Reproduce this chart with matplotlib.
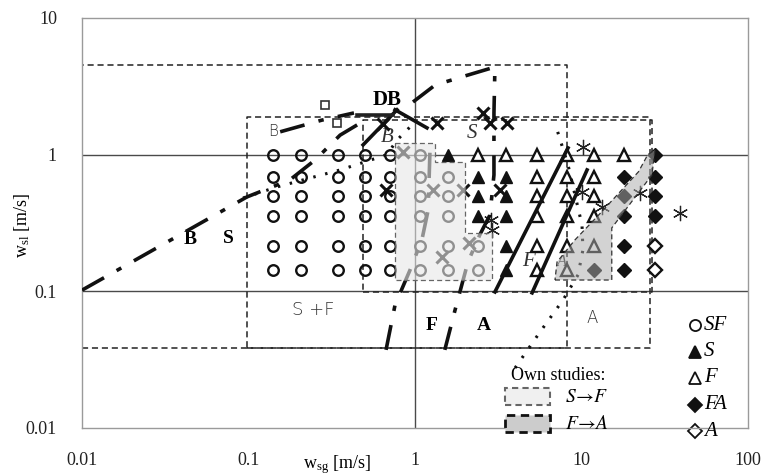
import matplotlib
matplotlib.use("Agg")
import matplotlib.pyplot as plt
from matplotlib.patches import Polygon, Rectangle

plt.rcParams['font.family'] = ['Liberation Serif', 'DejaVu Serif']
plt.rcParams['mathtext.fontset'] = 'stix'

# ---------------- data ----------------
x_ticks = [0.01, 0.1, 1, 10, 100]
x_tick_labels = ['0.01', '0.1', '1', '10', '100']
y_ticks = [0.01, 0.1, 1, 10]
y_tick_labels = ['0.01', '0.1', '1', '10']

# SF (open circles)
sf_x = [0.14]*6 + [0.207]*6 + [0.345]*6 + [0.50]*6 + [0.71]*6 + [1.07]*6 + [1.58]*5 + [2.39]*2
sf_y = ([1.0, 0.69, 0.5, 0.355, 0.215, 0.143]*6 + [0.69, 0.5, 0.355, 0.215, 0.143] + [0.215, 0.143])
# S (filled triangles)
s_x = [1.58, 2.39, 2.39, 2.39, 3.52, 3.52, 3.52, 3.52, 3.52]
s_y = [1.0, 0.69, 0.5, 0.355, 0.69, 0.5, 0.355, 0.215, 0.143]
# F (open triangles)
f_x = [2.39, 3.52, 5.41, 8.18, 11.9, 18.0,
       5.41, 8.18, 11.9, 5.41, 8.18, 11.9, 5.41, 8.18, 11.9, 5.41, 8.18, 11.9,
       5.41, 8.18]
f_y = [1.0]*6 + [0.69]*3 + [0.5]*3 + [0.355]*3 + [0.215]*3 + [0.143]*2
# FA (filled diamonds)
fa_x = [27.6, 18.0, 27.6, 18.0, 27.6, 18.0, 27.6, 18.0, 11.9, 18.0]
fa_y = [1.0, 0.69, 0.69, 0.5, 0.5, 0.355, 0.355, 0.215, 0.143, 0.143]
# A (open diamonds)
a_x = [27.6, 27.6]
a_y = [0.215, 0.143]

# other studies: crosses, asterisks, squares
cross_x = [0.643, 1.355, 2.56, 2.82, 3.57, 3.24, 0.67, 0.848, 1.28, 1.94, 2.11, 1.45]
cross_y = [1.68, 1.71, 2.02, 1.71, 1.71, 0.552, 0.552, 1.05, 0.552, 0.552, 0.226, 0.179]
star_x = [10.2, 10.07, 13.3, 22.4, 39.1, 2.85, 2.9]
star_y = [1.14, 0.533, 0.414, 0.525, 0.375, 0.33, 0.28]
sq_x = [0.288, 0.340]
sq_y = [2.31, 1.71]

# boundary lines
bs_x = [0.01, 0.098, 0.177, 0.251, 0.355, 0.449]          # B / S dash-dot
bs_y = [0.102, 0.491, 0.653, 0.914, 1.39, 1.65]
bu_x = [0.155, 0.276, 0.43]                               # upper dash-dot near B
bu_y = [1.47, 1.79, 2.02]
db1_x = [0.488, 0.78]
db1_y = [1.18, 2.13]
db2_x = [0.759, 1.18]
db2_y = [2.13, 1.57]
db3_x = [0.449, 0.738]
db3_y = [1.95, 1.95]
top_x = [0.973, 1.32, 2.0, 3.02, 2.98, 2.98, 2.82, 2.45, 2.08, 1.74, 1.51]
top_y = [2.43, 3.23, 3.77, 4.38, 2.02, 0.711, 0.362, 0.259, 0.164, 0.073, 0.0373]
sf1_x = [0.67, 0.759, 0.933, 1.10, 1.20, 1.23]
sf1_y = [0.0373, 0.0796, 0.143, 0.238, 0.394, 1.08]
fa1_x = [3.02, 8.30]
fa1_y = [0.099, 1.12]
fa2_x = [5.05, 10.8]
fa2_y = [0.0975, 0.773]
dot1_x = [0.0927, 0.148, 0.212, 0.355, 0.50, 0.679, 0.78, 0.96]
dot1_y = [0.482, 0.58, 0.653, 0.773, 0.885, 1.0, 1.28, 1.65]
dot2_x = [3.99, 5.64, 7.75, 9.53, 10.2, 10.07, 9.14, 8.30, 7.13]
dot2_y = [0.0275, 0.0505, 0.0865, 0.132, 0.201, 0.306, 0.507, 0.841, 1.52]

# dashed study boxes (x0, x1, y0, y1)
box_a = [0.01, 8.18, 0.0386, 4.53]
box_b = [0.098, 25.8, 0.0386, 1.89]
box_c = [0.488, 26.5, 0.099, 1.79]

# own-studies regions
s2f_x = [0.759, 1.32, 1.32, 2.0, 2.0, 2.90, 2.90, 0.759]
s2f_y = [1.22, 1.22, 0.885, 0.885, 0.267, 0.267, 0.121, 0.121]
f2a_x = [6.93, 15.2, 15.2, 26.5, 27.6, 25.0, 22.0, 12.9, 9.14, 7.13]
f2a_y = [0.121, 0.121, 0.291, 0.711, 1.08, 1.0, 0.75, 0.37, 0.238, 0.164]

# ---------------- figure ----------------
W, H = 768, 475
fig = plt.figure(figsize=(W/100, H/100), dpi=100)
ax = fig.add_axes([82/W, 1-428/H, 666/W, 410/H])
ax.set_xscale('log')
ax.set_yscale('log')
ax.set_xlim(0.01, 100)
ax.set_ylim(0.01, 10)
ax.set_xticks(x_ticks)
ax.set_xticklabels(x_tick_labels)
ax.set_yticks(y_ticks)
ax.set_yticklabels(y_tick_labels)
ax.minorticks_off()
ax.tick_params(axis='both', length=0, labelsize=13, labelcolor='#222')
ax.tick_params(axis='x', pad=17)
ax.tick_params(axis='y', pad=18)
for s in ax.spines.values():
    s.set_color('#9a9a9a')
    s.set_linewidth(1.0)

gc = '#4a4a4a'
ax.axvline(1, color=gc, lw=1.0, zorder=1)
ax.axhline(1, color=gc, lw=1.0, zorder=1)
ax.axhline(0.1, color=gc, lw=1.0, zorder=1)

def box(b, **kw):
    x0, x1, y0, y1 = b
    ax.plot([x0, x1, x1, x0, x0], [y0, y0, y1, y1, y0], color='#222', lw=1.1,
            ls=(0, (4, 2.5)), zorder=2, **kw)

box(box_a)
box(box_b)
box(box_c)

# markers
mk = dict(ls='none', zorder=4)
ax.plot(sf_x, sf_y, marker='o', ms=7.6, mfc='none', mec='#111', mew=1.7, **mk)
ax.plot(s_x, s_y, marker='^', ms=9, mfc='#111', mec='#111', mew=1.0, **mk)
ax.plot(f_x, f_y, marker='^', ms=9, mfc='white', mec='#111', mew=1.7, **mk)
ax.plot(fa_x, fa_y, marker='D', ms=7.5, mfc='#111', mec='#111', mew=1.0, **mk)
ax.plot(a_x, a_y, marker='D', ms=7.5, mfc='white', mec='#111', mew=1.7, **mk)
ax.plot(cross_x, cross_y, marker='x', ms=8, mec='#111', mew=2.2, **mk)
ax.plot(star_x, star_y, marker=(6, 2, 0), ms=11, mec='#222', mew=0.9, **mk)
ax.plot(sq_x, sq_y, marker='s', ms=6, mfc='white', mec='#333', mew=1.2, **mk)

# lines
dd = (0, (7, 4, 1.5, 4))
ax.plot(bs_x, bs_y, color='#111', lw=2.6, ls=dd, zorder=5)
ax.plot(bu_x, bu_y, color='#111', lw=2.6, ls=dd, zorder=5)
ax.plot(db1_x, db1_y, color='#111', lw=2.6, zorder=5)
ax.plot(db2_x, db2_y, color='#111', lw=2.6, zorder=5)
ax.plot(db3_x, db3_y, color='#222', lw=2.6, zorder=5)
ax.plot(top_x, top_y, color='#111', lw=2.6, ls=dd, zorder=5)
ax.plot(sf1_x, sf1_y, color='#111', lw=2.6, ls=dd, zorder=5)
ax.plot(fa1_x, fa1_y, color='#111', lw=2.6, zorder=5)
ax.plot(fa2_x, fa2_y, color='#111', lw=2.6, zorder=5)
ax.plot(dot1_x, dot1_y, color='#111', lw=2.2, ls=(0, (0.8, 3.2)), zorder=5)
ax.plot(dot2_x, dot2_y, color='#111', lw=2.2, ls=(0, (0.8, 3.2)), zorder=5)

# own-study regions (translucent overlays)
ax.add_patch(Polygon(list(zip(s2f_x, s2f_y)), closed=True, fc=(0.9, 0.9, 0.9, 0.6),
                     ec='#666', lw=0.9, ls=(0, (4, 2.5)), zorder=6))
ax.add_patch(Polygon(list(zip(f2a_x, f2a_y)), closed=True, fc=(0.67, 0.67, 0.67, 0.52),
                     ec='#333', lw=0.9, ls=(0, (4, 2.5)), zorder=6))

# labels inside the plot
ax.text(0.679, 2.51, 'DB', fontsize=15, fontweight='bold', ha='center', va='center', zorder=7)
ax.text(0.0446, 0.238, 'B', fontsize=14, fontweight='bold', ha='center', va='center')
ax.text(0.0753, 0.242, 'S', fontsize=14, fontweight='bold', ha='center', va='center')
ax.text(1.26, 0.0567, 'F', fontsize=14, fontweight='bold', ha='center', va='center')
ax.text(2.59, 0.0567, 'A', fontsize=14, fontweight='bold', ha='center', va='center')
ax.text(0.244, 0.073, 'S +F', fontsize=13, family='DejaVu Sans', fontweight='light',
        color='#333', ha='center', va='center')
ax.text(11.6, 0.0638, 'A', fontsize=12, family='DejaVu Sans', fontweight='light',
        color='#333', ha='center', va='center')
ax.text(0.14, 1.47, 'B', fontsize=11, family='DejaVu Sans', fontweight='light',
        color='#333', ha='center', va='center')
ax.text(0.679, 1.33, 'B', fontsize=15, style='italic', ha='center', va='center', color='#333')
ax.text(2.2, 1.44, 'S', fontsize=15, style='italic', ha='center', va='center', color='#333')
ax.text(4.78, 0.164, 'F', fontsize=15, style='italic', ha='center', va='center', color='#333')
ax.text(7.64, 0.164, 'A', fontsize=12, style='italic', ha='center', va='center', color='#333')

# axis titles
fig.text(337/W, 1-465/H, r'$\mathregular{w_{sg}}$ [m/s]', fontsize=13, ha='center', va='center')
fig.text(22/W, 1-225/H, r'$\mathregular{w_{sl}}$ [m/s]', fontsize=13, ha='center', va='center',
         rotation=90)

# own-studies legend
fig.text(558/W, 1-375/H, 'Own studies:', fontsize=13, ha='center', va='center')
fig.patches.append(Rectangle((505/W, 1-405/H), 45/W, 17/H, transform=fig.transFigure,
                             fc='#f0f0f0', ec='#666', lw=1.5, ls=(0, (3, 2))))
fig.patches.append(Rectangle((505/W, 1-432/H), 45/W, 17/H, transform=fig.transFigure,
                             fc='#cccccc', ec='#111', lw=2.0, ls=(0, (3, 2))))
fig.text(565/W, 1-397/H, r'$S\!\rightarrow\!F$', fontsize=14, ha='left', va='center')
fig.text(565/W, 1-424/H, r'$F\!\rightarrow\!A$', fontsize=14, ha='left', va='center')

# marker legend
leg_items = [('o', 'none', 'SF'), ('^', '#111', 'S'), ('^', 'white', 'F'),
             ('D', '#111', 'FA'), ('D', 'white', 'A')]
for i, (m, fc, lab) in enumerate(leg_items):
    yy = 1 - (325 + i*26.5)/H
    ax.plot([695/W], [yy], marker=m, ms=8 if m != 'D' else 7, mfc=fc, mec='#111', mew=1.3,
            transform=fig.transFigure, clip_on=False, ls='none')
    fig.text(704/W, yy, lab, fontsize=15, style='italic', ha='left', va='center')

fig.savefig('out.png', dpi=100)
